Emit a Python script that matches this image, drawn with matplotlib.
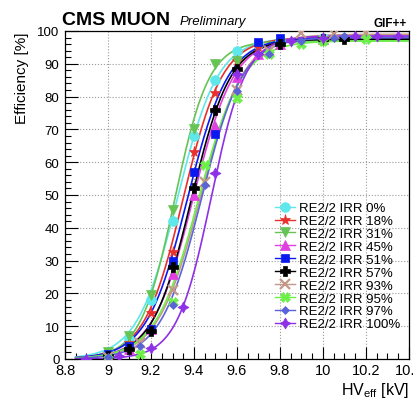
import numpy as np
import matplotlib
matplotlib.use("Agg")
import matplotlib.pyplot as plt
from matplotlib.ticker import MultipleLocator

plt.rcParams['font.family'] = ['Liberation Sans', 'DejaVu Sans']
plt.rcParams['mathtext.fontset'] = 'custom'
plt.rcParams['mathtext.rm'] = 'Liberation Sans'

# ---- data ----
labels = ["RE2/2 IRR 0%", "RE2/2 IRR 18%", "RE2/2 IRR 31%", "RE2/2 IRR 45%",
          "RE2/2 IRR 51%", "RE2/2 IRR 57%", "RE2/2 IRR 93%", "RE2/2 IRR 95%",
          "RE2/2 IRR 97%", "RE2/2 IRR 100%"]

hv_0 = [9.0, 9.1, 9.2, 9.3, 9.4, 9.5, 9.6, 9.7, 9.8, 10.0]
eff_0 = [2, 6, 18, 42, 68, 85, 94, 96, 97, 98]
hv_18 = [9.0, 9.1, 9.2, 9.3, 9.4, 9.5, 9.6, 9.7, 9.8, 10.0]
eff_18 = [1.5, 5, 14, 32.7, 63, 81, 91, 95, 97, 98]
hv_31 = [9.0, 9.1, 9.2, 9.3, 9.4, 9.5, 9.6, 9.8, 10.0]
eff_31 = [2, 7, 19.5, 45.5, 70, 90, 91, 96, 97]
hv_45 = [9.0, 9.1, 9.2, 9.3, 9.4, 9.5, 9.6, 9.7, 9.8, 10.0]
eff_45 = [1, 3, 9, 26, 50, 71, 86, 93, 96, 97.5]
hv_51 = [9.0, 9.1, 9.2, 9.3, 9.4, 9.5, 9.7, 9.8]
eff_51 = [1.5, 4, 9, 30, 57, 68.5, 96.5, 98]
hv_57 = [9.0, 9.1, 9.2, 9.3, 9.4, 9.5, 9.6, 9.8, 10.0, 10.1]
eff_57 = [1, 3, 8.5, 28, 52, 76, 88.5, 96, 97.5, 97.5]
hv_93 = [9.0, 9.15, 9.3, 9.45, 9.6, 9.75, 9.9, 10.05, 10.2]
eff_93 = [0.5, 5, 21, 54, 82, 94, 99.5, 99, 99.5]
hv_95 = [9.0, 9.15, 9.3, 9.45, 9.6, 9.75, 9.9, 10.0, 10.2]
eff_95 = [0, 1.5, 17.5, 59, 79.7, 93, 96, 97, 97.5]
hv_97 = [9.0, 9.15, 9.3, 9.45, 9.6, 9.75, 9.9, 10.05, 10.1]
eff_97 = [0.5, 4, 16.5, 53, 81.6, 93, 97, 98, 98.5]
hv_100 = [8.9, 9.05, 9.2, 9.35, 9.5, 9.6, 9.7, 9.85, 10.0, 10.15, 10.25, 10.35]
eff_100 = [0, 1, 3.3, 16, 56.7, 87, 93, 97, 98, 98.5, 98.5, 98.5]

# sigmoid fit parameters: plateau, slope, HV50
fit_emax = [98, 98, 97, 98, 98, 97.5, 99, 97, 98, 98.5]
fit_lambda = [10.6, 11.0, 12.5, 10.5, 10.5, 11.0, 10.0, 10.0, 10.5, 12.5]
fit_hv50 = [9.323, 9.35, 9.31, 9.396, 9.37, 9.388, 9.43, 9.42, 9.435, 9.48]

hvs = [hv_0, hv_18, hv_31, hv_45, hv_51, hv_57, hv_93, hv_95, hv_97, hv_100]
effs = [eff_0, eff_18, eff_31, eff_45, eff_51, eff_57, eff_93, eff_95, eff_97, eff_100]

colors = ['#5ee8ec', '#e8302c', '#66c455', '#e040e0', '#0a1aee', '#000000',
          '#c49888', '#6cf048', '#5a64d8', '#8e30e6']
markers = ['o', '*', 'v', '^', 's', 'P', 'x', 'X', 'D', (4, 1, 0)]
msizes = [7, 8, 7, 6.5, 6, 7.5, 6.5, 7, 4.5, 8]

fig = plt.figure(figsize=(4.14, 4.06), dpi=100)
ax = fig.add_axes([65/414, 1-360/406, (409-65)/414, (360-32)/406])

xfit = np.linspace(8.85, 10.4, 300)
handles = []
for i in range(len(labels)):
    yfit = fit_emax[i] / (1 + np.exp(-fit_lambda[i] * (xfit - fit_hv50[i])))
    ax.plot(xfit, yfit, color=colors[i], lw=1.2, zorder=2 + i * 0.01)
    mew = 1.6 if markers[i] == 'x' else 0.5
    h, = ax.plot(hvs[i], effs[i], linestyle='-', lw=1.2, marker=markers[i],
                 ms=msizes[i], color=colors[i], mec=colors[i], mew=mew,
                 zorder=3 + i * 0.01)
    h.set_linestyle('none')
    lh, = ax.plot([], [], linestyle='-', lw=1.0, marker=markers[i], ms=msizes[i],
                  color=colors[i], mec=colors[i], mew=mew)
    handles.append(lh)

ax.set_xlim(8.8, 10.4)
ax.set_ylim(0, 100)
ax.xaxis.set_major_locator(MultipleLocator(0.2))
ax.xaxis.set_minor_locator(MultipleLocator(0.05))
ax.yaxis.set_major_locator(MultipleLocator(10))
ax.yaxis.set_minor_locator(MultipleLocator(2))
ax.set_xticks(np.arange(8.8, 10.41, 0.2))
ax.set_xticklabels(['8.8', '9', '9.2', '9.4', '9.6', '9.8', '10', '10.2', '10.4'])
ax.tick_params(which='both', direction='in', top=False, right=False)
ax.tick_params(which='major', length=9, width=0.8)
ax.tick_params(which='minor', length=4.5, width=0.8)
ax.tick_params(axis='x', labelsize=10.5, pad=3)
ax.tick_params(axis='y', labelsize=9.5, pad=4)
ax.grid(True, which='major', color='#999999', linestyle=':', linewidth=0.8)
for s in ax.spines.values():
    s.set_linewidth(0.9)

leg = fig.legend(handles, labels, loc='upper left',
                 bbox_to_anchor=(275/414, 1-203/406), frameon=False,
                 fontsize=9.5, handlelength=1.5, handletextpad=0.3,
                 labelspacing=0.05, borderpad=0, borderaxespad=0)

fig.text(62/414, 1-25/406, 'CMS MUON', fontsize=14, fontweight='bold', va='baseline')
fig.text(180/414, 1-25/406, 'Preliminary', fontsize=9.5, style='italic', va='baseline')
fig.text(407/414, 1-27/406, 'GIF++', fontsize=8.5, fontweight='bold', va='baseline', ha='right')
fig.text(22/414, 1-32/406, 'Efficiency [%]', fontsize=11, rotation=90, ha='center', va='top')
fig.text(409/414, 11/406, r'HV$_{\mathrm{eff}}$ [kV]', fontsize=11.5, ha='right', va='baseline')

fig.savefig('out.png', dpi=100)
